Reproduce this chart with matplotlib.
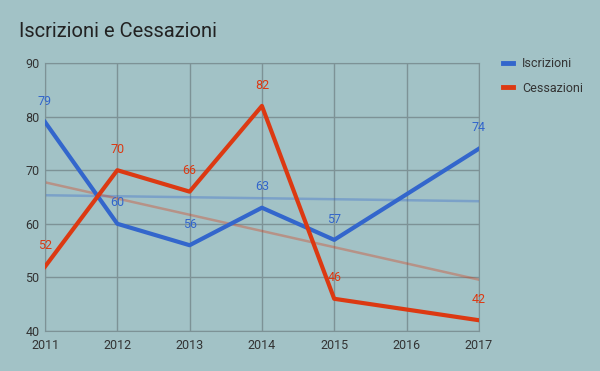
import numpy as np
import matplotlib.pyplot as plt

plt.rcParams['font.family'] = ['Roboto', 'DejaVu Sans']

years = [2011, 2012, 2013, 2014, 2015, 2016, 2017]
iscrizioni = [79, 60, 56, 63, 57, np.nan, 74]
cessazioni = [52, 70, 66, 82, 46, np.nan, 42]

bg = '#a2c2c6'
grid_c = '#7d9296'
text_c = '#333333'
blue = '#3366cc'
red = '#dc3912'

fig = plt.figure(figsize=(6, 3.71), dpi=100, facecolor=bg)
ax = fig.add_axes([0.075, 0.108, 0.723, 0.722], facecolor=bg)

x = np.array(years, dtype=float)
for vals, col, name in [(iscrizioni, blue, 'Iscrizioni'), (cessazioni, red, 'Cessazioni')]:
    y = np.array(vals, dtype=float)
    ok = ~np.isnan(y)
    # trend line
    k, b = np.polyfit(x[ok], y[ok], 1)
    ax.plot(x, k * x + b, color=col, alpha=0.35, lw=1.8, zorder=2)
    ax.plot(x[ok], y[ok], color=col, lw=3, label=name, zorder=3)
    for xi, yi in zip(x[ok], y[ok]):
        ax.annotate('%d' % yi, (xi, yi), xytext=(0, 15), textcoords='offset points',
                    ha='center', va='center', color=col, fontsize=9)

ax.set_xlim(2011, 2017)
ax.set_ylim(40, 90)
ax.set_xticks(years)
ax.set_yticks(range(40, 91, 10))
ax.grid(True, color=grid_c, lw=1)
for s in ax.spines.values():
    s.set_color(grid_c)
ax.tick_params(length=0, labelsize=9, colors=text_c)
ax.tick_params(axis='x', pad=6)
ax.tick_params(axis='y', pad=4)

fig.text(0.032, 0.915, 'Iscrizioni e Cessazioni', fontsize=14.5, color='#222222', va='center')

leg = ax.legend(loc='upper left', bbox_to_anchor=(1.03, 1.065), frameon=False, fontsize=9,
                handlelength=0.8, handletextpad=0.7, labelspacing=0.95, labelcolor=text_c)
for h in leg.get_lines():
    h.set_linewidth(3.5)

fig.savefig('out.png', dpi=100, facecolor=bg)
